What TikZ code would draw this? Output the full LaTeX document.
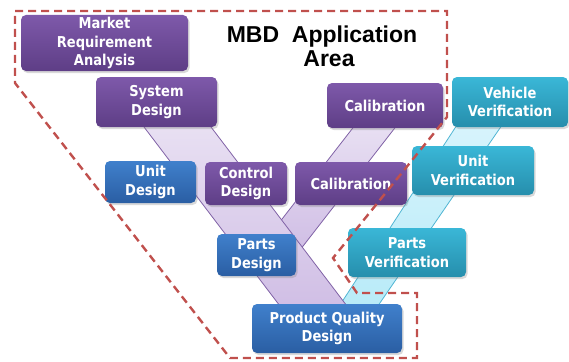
\documentclass[tikz,border=0pt]{standalone}
\usepackage{fontspec}
\newfontfamily\boxfont[FakeStretch=0.87]{DejaVu Sans}
\newfontfamily\titlefont{Liberation Sans}
\usetikzlibrary{shadows}

\definecolor{mbdpurpletop}{RGB}{126,89,170}
\definecolor{mbdpurplebot}{RGB}{94,62,134}
\definecolor{mbdbluetop}{RGB}{64,128,204}
\definecolor{mbdbluebot}{RGB}{42,94,163}
\definecolor{mbdtealtop}{RGB}{58,183,215}
\definecolor{mbdtealbot}{RGB}{38,142,172}
\definecolor{bandpurpletop}{RGB}{233,225,243}
\definecolor{bandpurplebot}{RGB}{208,190,229}
\definecolor{bandpurpleedge}{RGB}{128,98,166}
\definecolor{bandcyantop}{RGB}{216,244,252}
\definecolor{bandcyanbot}{RGB}{184,235,248}
\definecolor{bandcyanedge}{RGB}{80,181,211}
\definecolor{areared}{RGB}{192,80,77}

\begin{document}
\begin{tikzpicture}[x=1pt, y=-1pt,
    box/.style={rounded corners=5pt, inner sep=0pt, align=center, text=white,
      font=\boxfont\bfseries\fontsize{15}{18.5}\selectfont,
      drop shadow={opacity=0.3, shadow xshift=1.5pt, shadow yshift=-2pt}},
    purplebox/.style={box, top color=mbdpurpletop, bottom color=mbdpurplebot},
    bluebox/.style={box, top color=mbdbluetop, bottom color=mbdbluebot},
    tealbox/.style={box, top color=mbdtealtop, bottom color=mbdtealbot},
    purpleband/.style={draw=bandpurpleedge, line width=0.8pt,
      top color=bandpurpletop, bottom color=bandpurplebot},
    cyanband/.style={draw=bandcyanedge, line width=0.8pt,
      top color=bandcyantop, bottom color=bandcyanbot},
    arealine/.style={draw=areared, line width=2.4pt, dash pattern=on 8pt off 5pt}]
  \useasboundingbox (0,0) rectangle (569,361);

  % bands behind the boxes
  \path[cyanband] (460.2,120) -- (505.5,120) -- (375.1,310) -- (336.7,310) -- cycle;
  \path[purpleband] (359,120) -- (401,120) -- (300,250) -- (258,250) -- cycle;
  \path[purpleband] (138.7,120) -- (205.7,120) -- (350,310) -- (283,310) -- cycle;

  % design side
  \node[purplebox, minimum width=167, minimum height=56] (market) at (104.5,43) {Market\\Requirement\\Analysis};
  \node[purplebox, minimum width=121, minimum height=50] (sysdesign) at (156.5,102) {System\\Design};
  \node[bluebox, minimum width=91, minimum height=42] (unitdesign) at (150.5,182) {Unit\\Design};
  \node[purplebox, minimum width=82, minimum height=43] (ctrldesign) at (246,183.5) {Control\\Design};
  \node[bluebox, minimum width=79, minimum height=42] (partsdesign) at (256.5,255) {Parts\\Design};
  \node[bluebox, minimum width=150, minimum height=49] (pqdesign) at (327,328.5) {Product Quality\\Design};

  % calibration
  \node[purplebox, minimum width=116, minimum height=45] (calibtop) at (385,105.5) {Calibration};
  \node[purplebox, minimum width=112, minimum height=43] (calibmid) at (351,183.5) {Calibration};

  % verification side
  \node[tealbox, minimum width=116, minimum height=50] (vehverif) at (510,102) {Vehicle\\Verification};
  \node[tealbox, minimum width=122, minimum height=49] (unitverif) at (473,170.5) {Unit\\Verification};
  \node[tealbox, minimum width=118, minimum height=49] (partsverif) at (407,252.5) {Parts\\Verification};

  \node[align=center, inner sep=0pt, font=\titlefont\bfseries\fontsize{23}{24}\selectfont] (title) at (322,46.5) {MBD\ \ Application\\\hspace*{14pt}Area};

  % MBD application area
  \draw[arealine] (15,11) -- (447,11) -- (447,117) -- (333,258) -- (357,293) -- (417,293)
    -- (417,358) -- (230,358) -- (15,83) -- cycle;
\end{tikzpicture}
\end{document}
